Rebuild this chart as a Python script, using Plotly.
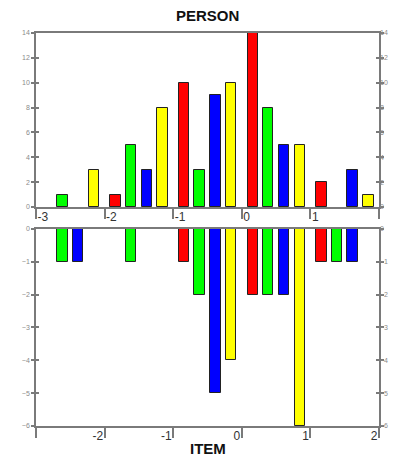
import plotly.graph_objects as go

# Bin centres (logits) shared by both panels
bin_centers = [-2.84, -2.615, -2.385, -2.155,
               -1.84, -1.615, -1.385, -1.155,
               -0.84, -0.615, -0.385, -0.155,
               0.16, 0.385, 0.615, 0.845,
               1.16, 1.385, 1.615, 1.845]
bin_colors = ["#FF0000", "#00FF00", "#0000FF", "#FFFF00"] * 5

person_counts = [0, 1, 0, 3,
                 1, 5, 3, 8,
                 10, 3, 9, 10,
                 14, 8, 5, 5,
                 2, 0, 3, 1]
item_counts = [0, -1, -1, 0,
               0, -1, 0, 0,
               -1, -2, -5, -4,
               -2, -2, -2, -6,
               -1, -1, -1, 0]

x_tickvals = [-3, -2, -1, 0, 1, 2]
top_ticktext = ["-3", "-2", "-1", "0", "1", ""]
bottom_ticktext = ["", "-2", "-1", "0", "1", "2"]
person_yticks = [0, 2, 4, 6, 8, 10, 12, 14]
item_yticks = [0, -1, -2, -3, -4, -5, -6]

FONT = "Arial, Liberation Sans, sans-serif"
LINE = "#7a7a7a"


def nz(vals):
    return [v if v != 0 else None for v in vals]


fig = go.Figure()
fig.add_trace(go.Bar(x=bin_centers, y=nz(person_counts), width=0.153,
                     marker=dict(color=bin_colors, line=dict(color="#222222", width=1)),
                     xaxis="x", yaxis="y", showlegend=False))
fig.add_trace(go.Bar(x=bin_centers, y=nz(item_counts), width=0.153,
                     marker=dict(color=bin_colors, line=dict(color="#222222", width=1)),
                     xaxis="x2", yaxis="y2", showlegend=False))
# invisible traces to activate right-side axes
fig.add_trace(go.Scatter(x=[None], y=[None], xaxis="x", yaxis="y3", showlegend=False))
fig.add_trace(go.Scatter(x=[None], y=[None], xaxis="x2", yaxis="y4", showlegend=False))

top_dom = [0.5573, 1.0]
bot_dom = [0.0, 0.5013]

xcommon = dict(range=[-3, 2], showgrid=False, zeroline=False, showline=True,
               linecolor=LINE, linewidth=1.5, mirror=True, ticks="outside",
               ticklen=10, tickwidth=1.5, tickcolor=LINE, tickvals=x_tickvals,
               automargin=False,
               tickfont=dict(family=FONT, size=12, color="#333333"))
ycommon = dict(showgrid=False, zeroline=False, linecolor=LINE, linewidth=1.5,
               mirror="allticks", ticklen=3, tickwidth=1.5, tickcolor=LINE,
               automargin=False,
               tickfont=dict(family=FONT, size=7, color="#8a8a8a"))
fig.update_layout(
    width=399, height=459,
    margin=dict(l=36, r=20, t=33, b=33, autoexpand=False),
    plot_bgcolor="white", paper_bgcolor="white",
    bargap=0,
    xaxis=dict(**xcommon, domain=[0, 1], anchor="y", ticktext=top_ticktext,
               ticklabelposition="outside right", ticklabelstandoff=-2),
    xaxis2=dict(**xcommon, domain=[0, 1], anchor="y2", ticktext=bottom_ticktext,
                ticklabelposition="outside left", ticklabelstandoff=-2),
    yaxis=dict(**ycommon, domain=top_dom, range=[0, 14], anchor="x",
               showline=True, ticks="outside", tickvals=person_yticks),
    yaxis3=dict(**ycommon, domain=top_dom, range=[0, 14], anchor="x",
                overlaying="y", side="right", showline=False, ticks="inside",
                tickvals=person_yticks),
    yaxis2=dict(**ycommon, domain=bot_dom, range=[-6, 0], anchor="x2",
                showline=True, ticks="outside", tickvals=item_yticks),
    yaxis4=dict(**ycommon, domain=bot_dom, range=[-6, 0], anchor="x2",
                overlaying="y2", side="right", showline=False, ticks="inside",
                tickvals=item_yticks),
    annotations=[
        dict(text="<b>PERSON</b>", xref="paper", yref="paper", x=0.5, y=1.0458,
             xanchor="center", yanchor="middle",
             showarrow=False, font=dict(family=FONT, size=15, color="#111111")),
        dict(text="<b>ITEM</b>", xref="paper", yref="paper", x=0.5, y=-0.083,
             xanchor="center", yanchor="bottom",
             showarrow=False, font=dict(family=FONT, size=15, color="#111111")),
    ],
)

fig.write_html("out.html", config={"displayModeBar": False},
               post_script="document.body.style.margin='0';document.body.style.overflow='hidden';")
